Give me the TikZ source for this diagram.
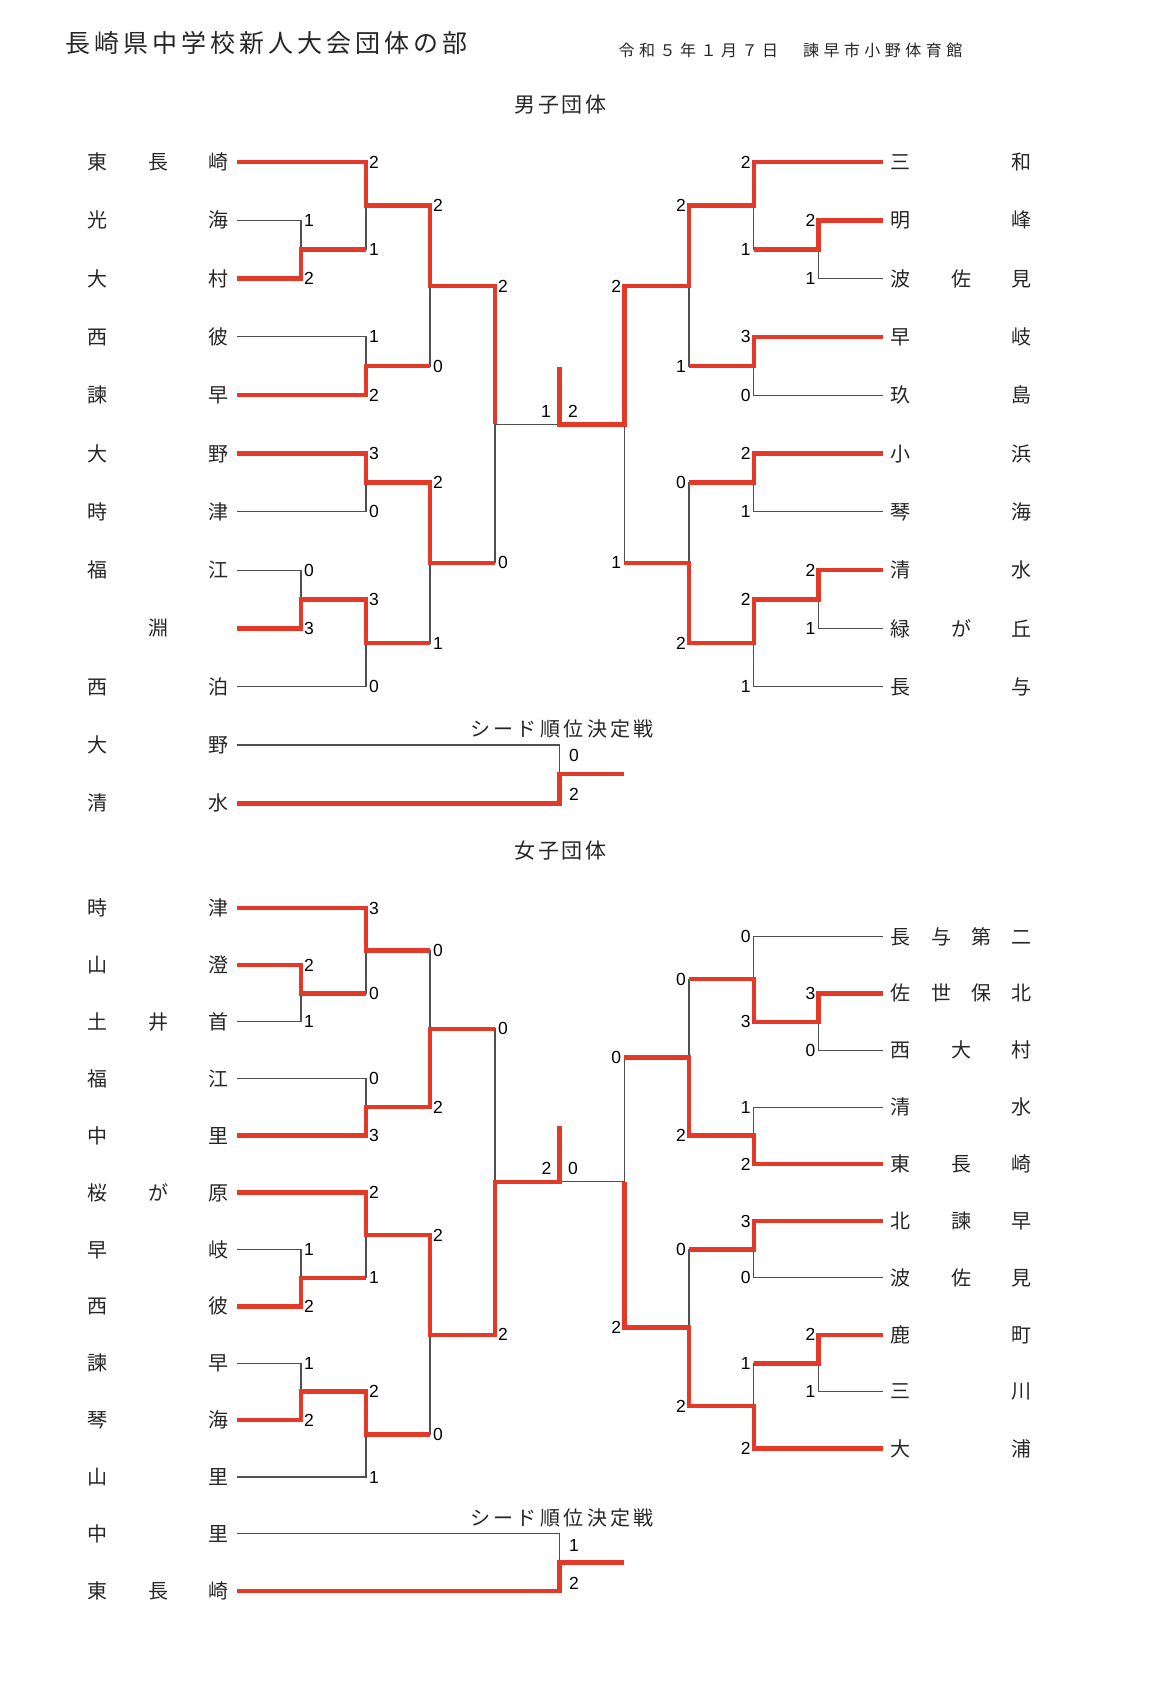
\documentclass[tikz,border=0pt]{standalone}
\usepackage{fontspec}
\setmainfont{Liberation Sans}
\newfontfamily\jp{Noto Sans CJK JP}
\newfontfamily\jptitle[LetterSpace=16]{Noto Sans CJK JP}
\newfontfamily\jpdate[LetterSpace=28]{Noto Sans CJK JP}
\newfontfamily\jphead[LetterSpace=14]{Noto Sans CJK JP}
\newfontfamily\jpseed[LetterSpace=17]{Noto Sans CJK JP}
\definecolor{winred}{RGB}{229,57,40}
\definecolor{linegray}{RGB}{80,80,80}
\newcommand{\lbox}[1]{\makebox[141pt]{#1}}

\begin{document}
\begin{tikzpicture}[x=1pt, y=-1pt, line join=miter,
    lose/.style={draw=linegray, line width=1.1pt},
    win/.style={draw=winred, line width=4.5pt},
    lteam/.style={anchor=east, inner xsep=8pt, inner ysep=0pt, text=black!85, font=\jp\fontsize{20}{24}\selectfont},
    rteam/.style={anchor=west, inner xsep=8pt, inner ysep=0pt, text=black!85, font=\jp\fontsize{20}{24}\selectfont},
    sl/.style={anchor=west, inner sep=0pt, font=\fontsize{17.5}{20}\selectfont},
    sr/.style={anchor=east, inner sep=0pt, font=\fontsize{17.5}{20}\selectfont},
    sc/.style={inner sep=0pt, font=\fontsize{17.5}{20}\selectfont},
    head/.style={inner sep=0pt, text=black!85, font=\jphead\fontsize{21}{24}\selectfont},
    seedlab/.style={inner sep=0pt, text=black!85, font=\jpseed\fontsize{20}{24}\selectfont}]
  \useasboundingbox (0,0) rectangle (1160,1693);

  % Headings
  \node[anchor=west, inner sep=0pt, text=black!85, font=\jptitle\fontsize{25}{28}\selectfont] (title) at (65.5,43.3) {長崎県中学校新人大会団体の部};
  \node[anchor=west, inner sep=0pt, text=black!85, font=\jpdate\fontsize{16}{20}\selectfont] (date) at (618.5,50) {令和５年１月７日　諫早市小野体育館};
  \node[head] (boys) at (560.5,105) {男子団体};
  \node[head] (girls) at (560.5,851) {女子団体};
  \node[seedlab] (mseed) at (562,729.3) {シード順位決定戦};
  \node[seedlab] (fseed) at (562,1518.3) {シード順位決定戦};

  % Boys, left teams
  \node[lteam] (m1) at (237,162) {\lbox{東\hfill 長\hfill 崎}};
  \node[lteam] (m2) at (237,220.3) {\lbox{光\hfill 海}};
  \node[lteam] (m3) at (237,278.6) {\lbox{大\hfill 村}};
  \node[lteam] (m4) at (237,336.9) {\lbox{西\hfill 彼}};
  \node[lteam] (m5) at (237,395.2) {\lbox{諫\hfill 早}};
  \node[lteam] (m6) at (237,453.5) {\lbox{大\hfill 野}};
  \node[lteam] (m7) at (237,511.8) {\lbox{時\hfill 津}};
  \node[lteam] (m8) at (237,570.1) {\lbox{福\hfill 江}};
  \node[lteam] (m9) at (237,628.4) {\lbox{淵}};
  \node[lteam] (m10) at (237,686.7) {\lbox{西\hfill 泊}};
  \node[lteam] (m11) at (237,745) {\lbox{大\hfill 野}};
  \node[lteam] (m12) at (237,803.3) {\lbox{清\hfill 水}};

  % Boys, right teams
  \node[rteam] (r1) at (882.5,162) {\lbox{三\hfill 和}};
  \node[rteam] (r2) at (882.5,220.3) {\lbox{明\hfill 峰}};
  \node[rteam] (r3) at (882.5,278.6) {\lbox{波\hfill 佐\hfill 見}};
  \node[rteam] (r4) at (882.5,336.9) {\lbox{早\hfill 岐}};
  \node[rteam] (r5) at (882.5,395.2) {\lbox{玖\hfill 島}};
  \node[rteam] (r6) at (882.5,453.5) {\lbox{小\hfill 浜}};
  \node[rteam] (r7) at (882.5,511.8) {\lbox{琴\hfill 海}};
  \node[rteam] (r8) at (882.5,570.1) {\lbox{清\hfill 水}};
  \node[rteam] (r9) at (882.5,628.4) {\lbox{緑\hfill が\hfill 丘}};
  \node[rteam] (r10) at (882.5,686.7) {\lbox{長\hfill 与}};

  % Boys, match points
  \coordinate (mA) at (301,249.45);
  \coordinate (mB) at (366,205.7);
  \coordinate (mC) at (366,366.05);
  \coordinate (mD) at (430,285.9);
  \coordinate (mE) at (366,482.65);
  \coordinate (mF) at (301,599.25);
  \coordinate (mG) at (366,643);
  \coordinate (mH) at (430,562.8);
  \coordinate (mI) at (495,424.35);
  \coordinate (mX) at (559.5,424.35);
  \coordinate (mT) at (559.5,367);
  \coordinate (ms) at (559.5,774.15);
  \coordinate (mso) at (624.3,774.15);
  \coordinate (ra) at (818.5,249.45);
  \coordinate (rb) at (753.8,205.7);
  \coordinate (rc) at (753.8,366.05);
  \coordinate (rd) at (689,285.9);
  \coordinate (re) at (753.8,482.65);
  \coordinate (rf) at (818.5,599.25);
  \coordinate (rg) at (753.8,643);
  \coordinate (rh) at (689,562.8);
  \coordinate (ri) at (624.3,424.35);

  % Boys, bracket lines
  \draw[lose] (m1.east) -| (mB) (m2.east) -| (mA) (m3.east) -| (mA) (mA) -| (mB)
    (m4.east) -| (mC) (m5.east) -| (mC) (mB) -| (mD) (mC) -| (mD)
    (m6.east) -| (mE) (m7.east) -| (mE) (m8.east) -| (mF) (m9.east) -| (mF)
    (mF) -| (mG) (m10.east) -| (mG) (mE) -| (mH) (mG) -| (mH)
    (mD) -| (mI) (mH) -| (mI) (mI) -- (mX);
  \draw[lose] (m11.east) -| (ms) (m12.east) -| (ms);
  \draw[lose] (r1.west) -| (rb) (r2.west) -| (ra) (r3.west) -| (ra) (ra) -| (rb)
    (r4.west) -| (rc) (r5.west) -| (rc) (rb) -| (rd) (rc) -| (rd)
    (r6.west) -| (re) (r7.west) -| (re) (r8.west) -| (rf) (r9.west) -| (rf)
    (rf) -| (rg) (r10.west) -| (rg) (re) -| (rh) (rg) -| (rh)
    (rd) -| (ri) (rh) -| (ri);

  % Boys, winners
  \draw[win] (m1.east) -| (mB) -| (mD) -| (mI);
  \draw[win] (m3.east) -| (mA) -- (mA -| mB);
  \draw[win] (m5.east) -| (mC) -- (mC -| mD);
  \draw[win] (m6.east) -| (mE) -| (mH) -- (mH -| mI);
  \draw[win] (m9.east) -| (mF) -| (mG) -- (mG -| mH);
  \draw[win] (r1.west) -| (rb) -| (rd) -| (ri) -- (mX) -- (mT);
  \draw[win] (r2.west) -| (ra) -- (ra -| rb);
  \draw[win] (r4.west) -| (rc) -- (rc -| rd);
  \draw[win] (r6.west) -| (re) -- (re -| rh);
  \draw[win] (r8.west) -| (rf) -| (rg) -| (rh) -- (rh -| ri);
  \draw[win] (m12.east) -| (ms) -- (mso);

  % Boys, scores
  \node[sl] (sm1) at (304,220.3) {1}; \node[sl] (sm2) at (304,278.6) {2};
  \node[sl] (sm3) at (304,570.1) {0}; \node[sl] (sm4) at (304,628.4) {3};
  \node[sl] (sm5) at (369,162) {2}; \node[sl] (sm6) at (369,249.45) {1};
  \node[sl] (sm7) at (369,336.9) {1}; \node[sl] (sm8) at (369,395.2) {2};
  \node[sl] (sm9) at (369,453.5) {3}; \node[sl] (sm10) at (369,511.8) {0};
  \node[sl] (sm11) at (369,599.25) {3}; \node[sl] (sm12) at (369,686.7) {0};
  \node[sl] (sm13) at (433,205.7) {2}; \node[sl] (sm14) at (433,366.05) {0};
  \node[sl] (sm15) at (433,482.65) {2}; \node[sl] (sm16) at (433,643) {1};
  \node[sl] (sm17) at (498,285.9) {2}; \node[sl] (sm18) at (498,562.8) {0};
  \node[sr] (sr1) at (815.5,220.3) {2}; \node[sr] (sr2) at (815.5,278.6) {1};
  \node[sr] (sr3) at (815.5,570.1) {2}; \node[sr] (sr4) at (815.5,628.4) {1};
  \node[sr] (sr5) at (750.8,162) {2}; \node[sr] (sr6) at (750.8,249.45) {1};
  \node[sr] (sr7) at (750.8,336.9) {3}; \node[sr] (sr8) at (750.8,395.2) {0};
  \node[sr] (sr9) at (750.8,453.5) {2}; \node[sr] (sr10) at (750.8,511.8) {1};
  \node[sr] (sr11) at (750.8,599.25) {2}; \node[sr] (sr12) at (750.8,686.7) {1};
  \node[sr] (sr13) at (686,205.7) {2}; \node[sr] (sr14) at (686,366.05) {1};
  \node[sr] (sr15) at (686,482.65) {0}; \node[sr] (sr16) at (686,643) {2};
  \node[sr] (sr17) at (621.3,285.9) {2}; \node[sr] (sr18) at (621.3,562.8) {1};
  \node[sc] (smf1) at (546,411.7) {1}; \node[sc] (smf2) at (573,411.7) {2};
  \node[sc] (sms1) at (574,755) {0}; \node[sc] (sms2) at (574,794) {2};

  % Girls, left teams
  \node[lteam] (f1) at (237,908) {\lbox{時\hfill 津}};
  \node[lteam] (f2) at (237,964.9) {\lbox{山\hfill 澄}};
  \node[lteam] (f3) at (237,1021.8) {\lbox{土\hfill 井\hfill 首}};
  \node[lteam] (f4) at (237,1078.7) {\lbox{福\hfill 江}};
  \node[lteam] (f5) at (237,1135.6) {\lbox{中\hfill 里}};
  \node[lteam] (f6) at (237,1192.5) {\lbox{桜\hfill が\hfill 原}};
  \node[lteam] (f7) at (237,1249.4) {\lbox{早\hfill 岐}};
  \node[lteam] (f8) at (237,1306.3) {\lbox{西\hfill 彼}};
  \node[lteam] (f9) at (237,1363.2) {\lbox{諫\hfill 早}};
  \node[lteam] (f10) at (237,1420.1) {\lbox{琴\hfill 海}};
  \node[lteam] (f11) at (237,1477) {\lbox{山\hfill 里}};
  \node[lteam] (f12) at (237,1533.9) {\lbox{中\hfill 里}};
  \node[lteam] (f13) at (237,1590.8) {\lbox{東\hfill 長\hfill 崎}};

  % Girls, right teams
  \node[rteam] (g1) at (882.5,936.5) {\lbox{長\hfill 与\hfill 第\hfill 二}};
  \node[rteam] (g2) at (882.5,993.4) {\lbox{佐\hfill 世\hfill 保\hfill 北}};
  \node[rteam] (g3) at (882.5,1050.3) {\lbox{西\hfill 大\hfill 村}};
  \node[rteam] (g4) at (882.5,1107.2) {\lbox{清\hfill 水}};
  \node[rteam] (g5) at (882.5,1164.1) {\lbox{東\hfill 長\hfill 崎}};
  \node[rteam] (g6) at (882.5,1221) {\lbox{北\hfill 諫\hfill 早}};
  \node[rteam] (g7) at (882.5,1277.9) {\lbox{波\hfill 佐\hfill 見}};
  \node[rteam] (g8) at (882.5,1334.8) {\lbox{鹿\hfill 町}};
  \node[rteam] (g9) at (882.5,1391.7) {\lbox{三\hfill 川}};
  \node[rteam] (g10) at (882.5,1448.6) {\lbox{大\hfill 浦}};

  % Girls, match points
  \coordinate (fA) at (301,993.35);
  \coordinate (fB) at (366,950.7);
  \coordinate (fC) at (366,1107.15);
  \coordinate (fD) at (430,1028.9);
  \coordinate (fE) at (301,1277.85);
  \coordinate (fF) at (366,1235.2);
  \coordinate (fG) at (301,1391.65);
  \coordinate (fH) at (366,1434.3);
  \coordinate (fI) at (430,1334.75);
  \coordinate (fJ) at (495,1181.8);
  \coordinate (fX) at (559.5,1181.8);
  \coordinate (fT) at (559.5,1125.7);
  \coordinate (fs) at (559.5,1562.35);
  \coordinate (fso) at (624.3,1562.35);
  \coordinate (ga) at (818.5,1021.85);
  \coordinate (gb) at (753.8,979.2);
  \coordinate (gc) at (753.8,1135.65);
  \coordinate (gd) at (689,1057.4);
  \coordinate (ge) at (753.8,1249.45);
  \coordinate (gf) at (818.5,1363.25);
  \coordinate (gg) at (753.8,1405.9);
  \coordinate (gh) at (689,1327.7);
  \coordinate (gi) at (624.3,1181.8);

  % Girls, bracket lines
  \draw[lose] (f1.east) -| (fB) (f2.east) -| (fA) (f3.east) -| (fA) (fA) -| (fB)
    (f4.east) -| (fC) (f5.east) -| (fC) (fB) -| (fD) (fC) -| (fD)
    (f6.east) -| (fF) (f7.east) -| (fE) (f8.east) -| (fE) (fE) -| (fF)
    (f9.east) -| (fG) (f10.east) -| (fG) (fG) -| (fH) (f11.east) -| (fH)
    (fF) -| (fI) (fH) -| (fI) (fD) -| (fJ) (fI) -| (fJ);
  \draw[lose] (f12.east) -| (fs) (f13.east) -| (fs);
  \draw[lose] (g1.west) -| (gb) (g2.west) -| (ga) (g3.west) -| (ga) (ga) -| (gb)
    (g4.west) -| (gc) (g5.west) -| (gc) (gb) -| (gd) (gc) -| (gd)
    (g6.west) -| (ge) (g7.west) -| (ge) (g8.west) -| (gf) (g9.west) -| (gf)
    (gf) -| (gg) (g10.west) -| (gg) (ge) -| (gh) (gg) -| (gh)
    (gd) -| (gi) (gh) -| (gi) (gi) -- (fX);

  % Girls, winners
  \draw[win] (f1.east) -| (fB) -- (fB -| fD);
  \draw[win] (f2.east) -| (fA) -- (fA -| fB);
  \draw[win] (f5.east) -| (fC) -| (fD) -- (fD -| fJ);
  \draw[win] (f6.east) -| (fF) -| (fI) -| (fJ) -- (fX) -- (fT);
  \draw[win] (f8.east) -| (fE) -- (fE -| fF);
  \draw[win] (f10.east) -| (fG) -| (fH) -- (fH -| fI);
  \draw[win] (f13.east) -| (fs) -- (fso);
  \draw[win] (g2.west) -| (ga) -| (gb) -- (gb -| gd);
  \draw[win] (g5.west) -| (gc) -| (gd) -- (gd -| gi);
  \draw[win] (g6.west) -| (ge) -- (ge -| gh);
  \draw[win] (g8.west) -| (gf) -- (gf -| gg);
  \draw[win] (g10.west) -| (gg) -| (gh) -| (gi);

  % Girls, scores
  \node[sl] (sf1) at (304,964.9) {2}; \node[sl] (sf2) at (304,1021.8) {1};
  \node[sl] (sf3) at (304,1249.4) {1}; \node[sl] (sf4) at (304,1306.3) {2};
  \node[sl] (sf5) at (304,1363.2) {1}; \node[sl] (sf6) at (304,1420.1) {2};
  \node[sl] (sf7) at (369,908) {3}; \node[sl] (sf8) at (369,993.35) {0};
  \node[sl] (sf9) at (369,1078.7) {0}; \node[sl] (sf10) at (369,1135.6) {3};
  \node[sl] (sf11) at (369,1192.5) {2}; \node[sl] (sf12) at (369,1277.85) {1};
  \node[sl] (sf13) at (369,1391.65) {2}; \node[sl] (sf14) at (369,1477) {1};
  \node[sl] (sf15) at (433,950.7) {0}; \node[sl] (sf16) at (433,1107.15) {2};
  \node[sl] (sf17) at (433,1235.2) {2}; \node[sl] (sf18) at (433,1434.3) {0};
  \node[sl] (sf19) at (498,1028.9) {0}; \node[sl] (sf20) at (498,1334.75) {2};
  \node[sr] (sg1) at (815.5,993.4) {3}; \node[sr] (sg2) at (815.5,1050.3) {0};
  \node[sr] (sg3) at (815.5,1334.8) {2}; \node[sr] (sg4) at (815.5,1391.7) {1};
  \node[sr] (sg5) at (750.8,936.5) {0}; \node[sr] (sg6) at (750.8,1021.85) {3};
  \node[sr] (sg7) at (750.8,1107.2) {1}; \node[sr] (sg8) at (750.8,1164.1) {2};
  \node[sr] (sg9) at (750.8,1221) {3}; \node[sr] (sg10) at (750.8,1277.9) {0};
  \node[sr] (sg11) at (750.8,1363.25) {1}; \node[sr] (sg12) at (750.8,1448.6) {2};
  \node[sr] (sg13) at (686,979.2) {0}; \node[sr] (sg14) at (686,1135.65) {2};
  \node[sr] (sg15) at (686,1249.45) {0}; \node[sr] (sg16) at (686,1405.9) {2};
  \node[sr] (sg17) at (621.3,1057.4) {0}; \node[sr] (sg18) at (621.3,1327.7) {2};
  \node[sc] (sff1) at (546.5,1168.7) {2}; \node[sc] (sff2) at (573,1168.7) {0};
  \node[sc] (sfs1) at (574,1545) {1}; \node[sc] (sfs2) at (574,1583) {2};
\end{tikzpicture}
\end{document}
